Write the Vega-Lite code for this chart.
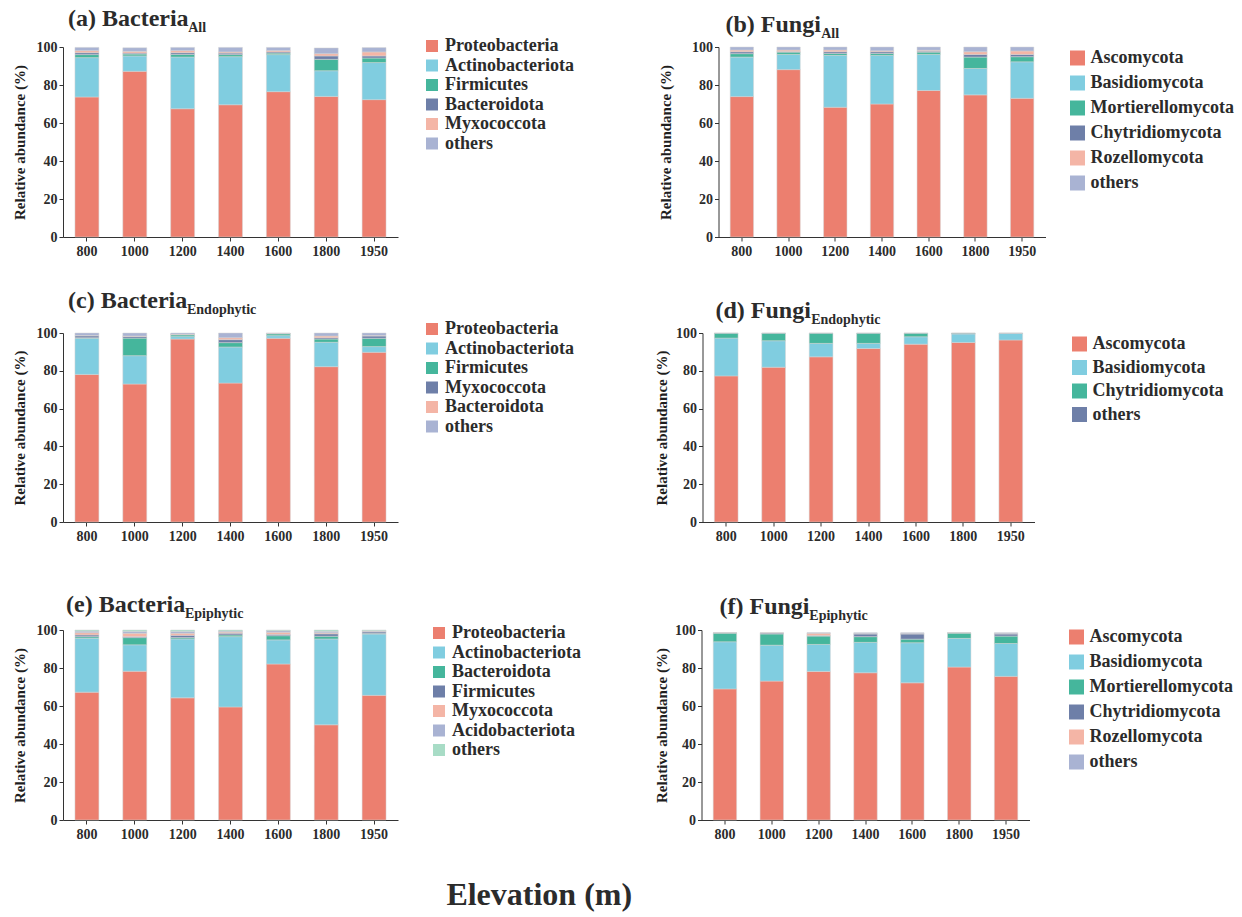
{
  "$schema": "https://vega.github.io/schema/vega-lite/v6.json",
  "padding": {"left": 12, "top": 7, "right": 2, "bottom": 2},
  "background": "white",
  "datasets": {
    "a": [
      {"elevation": 800, "taxon": "Proteobacteria", "rank": 1, "abundance": 73.7}, {"elevation": 800, "taxon": "Actinobacteriota", "rank": 2, "abundance": 20.7}, {"elevation": 800, "taxon": "Firmicutes", "rank": 3, "abundance": 1.6}, {"elevation": 800, "taxon": "Bacteroidota", "rank": 4, "abundance": 1.0}, {"elevation": 800, "taxon": "Myxococcota", "rank": 5, "abundance": 1.1}, {"elevation": 800, "taxon": "others", "rank": 6, "abundance": 1.7},
      {"elevation": 1000, "taxon": "Proteobacteria", "rank": 1, "abundance": 87.2}, {"elevation": 1000, "taxon": "Actinobacteriota", "rank": 2, "abundance": 8.1}, {"elevation": 1000, "taxon": "Firmicutes", "rank": 3, "abundance": 1.0}, {"elevation": 1000, "taxon": "Bacteroidota", "rank": 4, "abundance": 0.5}, {"elevation": 1000, "taxon": "Myxococcota", "rank": 5, "abundance": 0.9}, {"elevation": 1000, "taxon": "others", "rank": 6, "abundance": 1.9},
      {"elevation": 1200, "taxon": "Proteobacteria", "rank": 1, "abundance": 67.5}, {"elevation": 1200, "taxon": "Actinobacteriota", "rank": 2, "abundance": 27.2}, {"elevation": 1200, "taxon": "Firmicutes", "rank": 3, "abundance": 1.4}, {"elevation": 1200, "taxon": "Bacteroidota", "rank": 4, "abundance": 0.9}, {"elevation": 1200, "taxon": "Myxococcota", "rank": 5, "abundance": 1.1}, {"elevation": 1200, "taxon": "others", "rank": 6, "abundance": 1.7},
      {"elevation": 1400, "taxon": "Proteobacteria", "rank": 1, "abundance": 69.6}, {"elevation": 1400, "taxon": "Actinobacteriota", "rank": 2, "abundance": 25.3}, {"elevation": 1400, "taxon": "Firmicutes", "rank": 3, "abundance": 1.1}, {"elevation": 1400, "taxon": "Bacteroidota", "rank": 4, "abundance": 0.8}, {"elevation": 1400, "taxon": "Myxococcota", "rank": 5, "abundance": 0.6}, {"elevation": 1400, "taxon": "others", "rank": 6, "abundance": 2.4},
      {"elevation": 1600, "taxon": "Proteobacteria", "rank": 1, "abundance": 76.5}, {"elevation": 1600, "taxon": "Actinobacteriota", "rank": 2, "abundance": 19.5}, {"elevation": 1600, "taxon": "Firmicutes", "rank": 3, "abundance": 0.8}, {"elevation": 1600, "taxon": "Bacteroidota", "rank": 4, "abundance": 0.6}, {"elevation": 1600, "taxon": "Myxococcota", "rank": 5, "abundance": 0.7}, {"elevation": 1600, "taxon": "others", "rank": 6, "abundance": 1.7},
      {"elevation": 1800, "taxon": "Proteobacteria", "rank": 1, "abundance": 74.0}, {"elevation": 1800, "taxon": "Actinobacteriota", "rank": 2, "abundance": 13.5}, {"elevation": 1800, "taxon": "Firmicutes", "rank": 3, "abundance": 6.0}, {"elevation": 1800, "taxon": "Bacteroidota", "rank": 4, "abundance": 1.8}, {"elevation": 1800, "taxon": "Myxococcota", "rank": 5, "abundance": 1.2}, {"elevation": 1800, "taxon": "others", "rank": 6, "abundance": 3.0},
      {"elevation": 1950, "taxon": "Proteobacteria", "rank": 1, "abundance": 72.3}, {"elevation": 1950, "taxon": "Actinobacteriota", "rank": 2, "abundance": 19.5}, {"elevation": 1950, "taxon": "Firmicutes", "rank": 3, "abundance": 2.4}, {"elevation": 1950, "taxon": "Bacteroidota", "rank": 4, "abundance": 1.1}, {"elevation": 1950, "taxon": "Myxococcota", "rank": 5, "abundance": 2.1}, {"elevation": 1950, "taxon": "others", "rank": 6, "abundance": 2.3}
    ],
    "b": [
      {"elevation": 800, "taxon": "Ascomycota", "rank": 1, "abundance": 73.9}, {"elevation": 800, "taxon": "Basidiomycota", "rank": 2, "abundance": 20.8}, {"elevation": 800, "taxon": "Mortierellomycota", "rank": 3, "abundance": 1.8}, {"elevation": 800, "taxon": "Chytridiomycota", "rank": 4, "abundance": 1.0}, {"elevation": 800, "taxon": "Rozellomycota", "rank": 5, "abundance": 0.9}, {"elevation": 800, "taxon": "others", "rank": 6, "abundance": 1.6},
      {"elevation": 1000, "taxon": "Ascomycota", "rank": 1, "abundance": 88.1}, {"elevation": 1000, "taxon": "Basidiomycota", "rank": 2, "abundance": 8.0}, {"elevation": 1000, "taxon": "Mortierellomycota", "rank": 3, "abundance": 1.2}, {"elevation": 1000, "taxon": "Chytridiomycota", "rank": 4, "abundance": 0.3}, {"elevation": 1000, "taxon": "Rozellomycota", "rank": 5, "abundance": 0.8}, {"elevation": 1000, "taxon": "others", "rank": 6, "abundance": 1.6},
      {"elevation": 1200, "taxon": "Ascomycota", "rank": 1, "abundance": 68.3}, {"elevation": 1200, "taxon": "Basidiomycota", "rank": 2, "abundance": 27.3}, {"elevation": 1200, "taxon": "Mortierellomycota", "rank": 3, "abundance": 1.0}, {"elevation": 1200, "taxon": "Chytridiomycota", "rank": 4, "abundance": 0.9}, {"elevation": 1200, "taxon": "Rozellomycota", "rank": 5, "abundance": 0.9}, {"elevation": 1200, "taxon": "others", "rank": 6, "abundance": 1.6},
      {"elevation": 1400, "taxon": "Ascomycota", "rank": 1, "abundance": 70.0}, {"elevation": 1400, "taxon": "Basidiomycota", "rank": 2, "abundance": 25.6}, {"elevation": 1400, "taxon": "Mortierellomycota", "rank": 3, "abundance": 1.0}, {"elevation": 1400, "taxon": "Chytridiomycota", "rank": 4, "abundance": 0.9}, {"elevation": 1400, "taxon": "Rozellomycota", "rank": 5, "abundance": 0.5}, {"elevation": 1400, "taxon": "others", "rank": 6, "abundance": 2.0},
      {"elevation": 1600, "taxon": "Ascomycota", "rank": 1, "abundance": 77.1}, {"elevation": 1600, "taxon": "Basidiomycota", "rank": 2, "abundance": 19.0}, {"elevation": 1600, "taxon": "Mortierellomycota", "rank": 3, "abundance": 1.2}, {"elevation": 1600, "taxon": "Chytridiomycota", "rank": 4, "abundance": 0.5}, {"elevation": 1600, "taxon": "Rozellomycota", "rank": 5, "abundance": 0.5}, {"elevation": 1600, "taxon": "others", "rank": 6, "abundance": 1.7},
      {"elevation": 1800, "taxon": "Ascomycota", "rank": 1, "abundance": 74.8}, {"elevation": 1800, "taxon": "Basidiomycota", "rank": 2, "abundance": 13.9}, {"elevation": 1800, "taxon": "Mortierellomycota", "rank": 3, "abundance": 6.0}, {"elevation": 1800, "taxon": "Chytridiomycota", "rank": 4, "abundance": 1.4}, {"elevation": 1800, "taxon": "Rozellomycota", "rank": 5, "abundance": 1.4}, {"elevation": 1800, "taxon": "others", "rank": 6, "abundance": 2.5},
      {"elevation": 1950, "taxon": "Ascomycota", "rank": 1, "abundance": 73.0}, {"elevation": 1950, "taxon": "Basidiomycota", "rank": 2, "abundance": 19.2}, {"elevation": 1950, "taxon": "Mortierellomycota", "rank": 3, "abundance": 2.7}, {"elevation": 1950, "taxon": "Chytridiomycota", "rank": 4, "abundance": 1.2}, {"elevation": 1950, "taxon": "Rozellomycota", "rank": 5, "abundance": 1.8}, {"elevation": 1950, "taxon": "others", "rank": 6, "abundance": 2.1}
    ],
    "c": [
      {"elevation": 800, "taxon": "Proteobacteria", "rank": 1, "abundance": 78.1}, {"elevation": 800, "taxon": "Actinobacteriota", "rank": 2, "abundance": 19.1}, {"elevation": 800, "taxon": "Firmicutes", "rank": 3, "abundance": 0.3}, {"elevation": 800, "taxon": "Myxococcota", "rank": 4, "abundance": 1.0}, {"elevation": 800, "taxon": "Bacteroidota", "rank": 5, "abundance": 0.2}, {"elevation": 800, "taxon": "others", "rank": 6, "abundance": 1.3},
      {"elevation": 1000, "taxon": "Proteobacteria", "rank": 1, "abundance": 73.0}, {"elevation": 1000, "taxon": "Actinobacteriota", "rank": 2, "abundance": 15.0}, {"elevation": 1000, "taxon": "Firmicutes", "rank": 3, "abundance": 9.3}, {"elevation": 1000, "taxon": "Myxococcota", "rank": 4, "abundance": 0.9}, {"elevation": 1000, "taxon": "Bacteroidota", "rank": 5, "abundance": 0.2}, {"elevation": 1000, "taxon": "others", "rank": 6, "abundance": 1.6},
      {"elevation": 1200, "taxon": "Proteobacteria", "rank": 1, "abundance": 96.8}, {"elevation": 1200, "taxon": "Actinobacteriota", "rank": 2, "abundance": 1.3}, {"elevation": 1200, "taxon": "Firmicutes", "rank": 3, "abundance": 0.9}, {"elevation": 1200, "taxon": "Myxococcota", "rank": 4, "abundance": 0.2}, {"elevation": 1200, "taxon": "Bacteroidota", "rank": 5, "abundance": 0.2}, {"elevation": 1200, "taxon": "others", "rank": 6, "abundance": 0.6},
      {"elevation": 1400, "taxon": "Proteobacteria", "rank": 1, "abundance": 73.5}, {"elevation": 1400, "taxon": "Actinobacteriota", "rank": 2, "abundance": 19.1}, {"elevation": 1400, "taxon": "Firmicutes", "rank": 3, "abundance": 2.3}, {"elevation": 1400, "taxon": "Myxococcota", "rank": 4, "abundance": 1.6}, {"elevation": 1400, "taxon": "Bacteroidota", "rank": 5, "abundance": 1.0}, {"elevation": 1400, "taxon": "others", "rank": 6, "abundance": 2.5},
      {"elevation": 1600, "taxon": "Proteobacteria", "rank": 1, "abundance": 97.2}, {"elevation": 1600, "taxon": "Actinobacteriota", "rank": 2, "abundance": 1.4}, {"elevation": 1600, "taxon": "Firmicutes", "rank": 3, "abundance": 1.0}, {"elevation": 1600, "taxon": "Myxococcota", "rank": 4, "abundance": 0.1}, {"elevation": 1600, "taxon": "Bacteroidota", "rank": 5, "abundance": 0.1}, {"elevation": 1600, "taxon": "others", "rank": 6, "abundance": 0.2},
      {"elevation": 1800, "taxon": "Proteobacteria", "rank": 1, "abundance": 82.2}, {"elevation": 1800, "taxon": "Actinobacteriota", "rank": 2, "abundance": 12.9}, {"elevation": 1800, "taxon": "Firmicutes", "rank": 3, "abundance": 1.7}, {"elevation": 1800, "taxon": "Myxococcota", "rank": 4, "abundance": 0.7}, {"elevation": 1800, "taxon": "Bacteroidota", "rank": 5, "abundance": 0.9}, {"elevation": 1800, "taxon": "others", "rank": 6, "abundance": 1.6},
      {"elevation": 1950, "taxon": "Proteobacteria", "rank": 1, "abundance": 89.8}, {"elevation": 1950, "taxon": "Actinobacteriota", "rank": 2, "abundance": 3.0}, {"elevation": 1950, "taxon": "Firmicutes", "rank": 3, "abundance": 4.4}, {"elevation": 1950, "taxon": "Myxococcota", "rank": 4, "abundance": 1.2}, {"elevation": 1950, "taxon": "Bacteroidota", "rank": 5, "abundance": 0.3}, {"elevation": 1950, "taxon": "others", "rank": 6, "abundance": 1.3}
    ],
    "d": [
      {"elevation": 800, "taxon": "Ascomycota", "rank": 1, "abundance": 77.3}, {"elevation": 800, "taxon": "Basidiomycota", "rank": 2, "abundance": 20.0}, {"elevation": 800, "taxon": "Chytridiomycota", "rank": 3, "abundance": 2.6}, {"elevation": 800, "taxon": "others", "rank": 4, "abundance": 0.1},
      {"elevation": 1000, "taxon": "Ascomycota", "rank": 1, "abundance": 81.9}, {"elevation": 1000, "taxon": "Basidiomycota", "rank": 2, "abundance": 14.0}, {"elevation": 1000, "taxon": "Chytridiomycota", "rank": 3, "abundance": 4.0}, {"elevation": 1000, "taxon": "others", "rank": 4, "abundance": 0.1},
      {"elevation": 1200, "taxon": "Ascomycota", "rank": 1, "abundance": 87.4}, {"elevation": 1200, "taxon": "Basidiomycota", "rank": 2, "abundance": 7.1}, {"elevation": 1200, "taxon": "Chytridiomycota", "rank": 3, "abundance": 5.4}, {"elevation": 1200, "taxon": "others", "rank": 4, "abundance": 0.1},
      {"elevation": 1400, "taxon": "Ascomycota", "rank": 1, "abundance": 91.8}, {"elevation": 1400, "taxon": "Basidiomycota", "rank": 2, "abundance": 2.7}, {"elevation": 1400, "taxon": "Chytridiomycota", "rank": 3, "abundance": 5.4}, {"elevation": 1400, "taxon": "others", "rank": 4, "abundance": 0.1},
      {"elevation": 1600, "taxon": "Ascomycota", "rank": 1, "abundance": 94.1}, {"elevation": 1600, "taxon": "Basidiomycota", "rank": 2, "abundance": 3.9}, {"elevation": 1600, "taxon": "Chytridiomycota", "rank": 3, "abundance": 1.9}, {"elevation": 1600, "taxon": "others", "rank": 4, "abundance": 0.1},
      {"elevation": 1800, "taxon": "Ascomycota", "rank": 1, "abundance": 95.0}, {"elevation": 1800, "taxon": "Basidiomycota", "rank": 2, "abundance": 4.5}, {"elevation": 1800, "taxon": "Chytridiomycota", "rank": 3, "abundance": 0.4}, {"elevation": 1800, "taxon": "others", "rank": 4, "abundance": 0.1},
      {"elevation": 1950, "taxon": "Ascomycota", "rank": 1, "abundance": 96.3}, {"elevation": 1950, "taxon": "Basidiomycota", "rank": 2, "abundance": 3.5}, {"elevation": 1950, "taxon": "Chytridiomycota", "rank": 3, "abundance": 0.1}, {"elevation": 1950, "taxon": "others", "rank": 4, "abundance": 0.1}
    ],
    "e": [
      {"elevation": 800, "taxon": "Proteobacteria", "rank": 1, "abundance": 67.3}, {"elevation": 800, "taxon": "Actinobacteriota", "rank": 2, "abundance": 28.4}, {"elevation": 800, "taxon": "Bacteroidota", "rank": 3, "abundance": 0.8}, {"elevation": 800, "taxon": "Firmicutes", "rank": 4, "abundance": 0.9}, {"elevation": 800, "taxon": "Myxococcota", "rank": 5, "abundance": 1.2}, {"elevation": 800, "taxon": "Acidobacteriota", "rank": 6, "abundance": 0.8}, {"elevation": 800, "taxon": "others", "rank": 7, "abundance": 0.6},
      {"elevation": 1000, "taxon": "Proteobacteria", "rank": 1, "abundance": 78.3}, {"elevation": 1000, "taxon": "Actinobacteriota", "rank": 2, "abundance": 13.9}, {"elevation": 1000, "taxon": "Bacteroidota", "rank": 3, "abundance": 3.8}, {"elevation": 1000, "taxon": "Firmicutes", "rank": 4, "abundance": 0.5}, {"elevation": 1000, "taxon": "Myxococcota", "rank": 5, "abundance": 1.8}, {"elevation": 1000, "taxon": "Acidobacteriota", "rank": 6, "abundance": 1.0}, {"elevation": 1000, "taxon": "others", "rank": 7, "abundance": 0.7},
      {"elevation": 1200, "taxon": "Proteobacteria", "rank": 1, "abundance": 64.3}, {"elevation": 1200, "taxon": "Actinobacteriota", "rank": 2, "abundance": 31.0}, {"elevation": 1200, "taxon": "Bacteroidota", "rank": 3, "abundance": 0.7}, {"elevation": 1200, "taxon": "Firmicutes", "rank": 4, "abundance": 1.2}, {"elevation": 1200, "taxon": "Myxococcota", "rank": 5, "abundance": 1.1}, {"elevation": 1200, "taxon": "Acidobacteriota", "rank": 6, "abundance": 1.0}, {"elevation": 1200, "taxon": "others", "rank": 7, "abundance": 0.7},
      {"elevation": 1400, "taxon": "Proteobacteria", "rank": 1, "abundance": 59.5}, {"elevation": 1400, "taxon": "Actinobacteriota", "rank": 2, "abundance": 37.0}, {"elevation": 1400, "taxon": "Bacteroidota", "rank": 3, "abundance": 0.9}, {"elevation": 1400, "taxon": "Firmicutes", "rank": 4, "abundance": 0.9}, {"elevation": 1400, "taxon": "Myxococcota", "rank": 5, "abundance": 0.6}, {"elevation": 1400, "taxon": "Acidobacteriota", "rank": 6, "abundance": 0.5}, {"elevation": 1400, "taxon": "others", "rank": 7, "abundance": 0.6},
      {"elevation": 1600, "taxon": "Proteobacteria", "rank": 1, "abundance": 82.1}, {"elevation": 1600, "taxon": "Actinobacteriota", "rank": 2, "abundance": 12.7}, {"elevation": 1600, "taxon": "Bacteroidota", "rank": 3, "abundance": 2.2}, {"elevation": 1600, "taxon": "Firmicutes", "rank": 4, "abundance": 0.7}, {"elevation": 1600, "taxon": "Myxococcota", "rank": 5, "abundance": 1.1}, {"elevation": 1600, "taxon": "Acidobacteriota", "rank": 6, "abundance": 0.8}, {"elevation": 1600, "taxon": "others", "rank": 7, "abundance": 0.4},
      {"elevation": 1800, "taxon": "Proteobacteria", "rank": 1, "abundance": 50.1}, {"elevation": 1800, "taxon": "Actinobacteriota", "rank": 2, "abundance": 45.2}, {"elevation": 1800, "taxon": "Bacteroidota", "rank": 3, "abundance": 1.4}, {"elevation": 1800, "taxon": "Firmicutes", "rank": 4, "abundance": 1.3}, {"elevation": 1800, "taxon": "Myxococcota", "rank": 5, "abundance": 0.5}, {"elevation": 1800, "taxon": "Acidobacteriota", "rank": 6, "abundance": 0.8}, {"elevation": 1800, "taxon": "others", "rank": 7, "abundance": 0.7},
      {"elevation": 1950, "taxon": "Proteobacteria", "rank": 1, "abundance": 65.6}, {"elevation": 1950, "taxon": "Actinobacteriota", "rank": 2, "abundance": 32.3}, {"elevation": 1950, "taxon": "Bacteroidota", "rank": 3, "abundance": 0.3}, {"elevation": 1950, "taxon": "Firmicutes", "rank": 4, "abundance": 0.8}, {"elevation": 1950, "taxon": "Myxococcota", "rank": 5, "abundance": 0.3}, {"elevation": 1950, "taxon": "Acidobacteriota", "rank": 6, "abundance": 0.3}, {"elevation": 1950, "taxon": "others", "rank": 7, "abundance": 0.4}
    ],
    "f": [
      {"elevation": 800, "taxon": "Ascomycota", "rank": 1, "abundance": 69.0}, {"elevation": 800, "taxon": "Basidiomycota", "rank": 2, "abundance": 24.8}, {"elevation": 800, "taxon": "Mortierellomycota", "rank": 3, "abundance": 4.6}, {"elevation": 800, "taxon": "Chytridiomycota", "rank": 4, "abundance": 0.1}, {"elevation": 800, "taxon": "Rozellomycota", "rank": 5, "abundance": 0.05}, {"elevation": 800, "taxon": "others", "rank": 6, "abundance": 0.05},
      {"elevation": 1000, "taxon": "Ascomycota", "rank": 1, "abundance": 73.1}, {"elevation": 1000, "taxon": "Basidiomycota", "rank": 2, "abundance": 18.9}, {"elevation": 1000, "taxon": "Mortierellomycota", "rank": 3, "abundance": 5.9}, {"elevation": 1000, "taxon": "Chytridiomycota", "rank": 4, "abundance": 0.5}, {"elevation": 1000, "taxon": "Rozellomycota", "rank": 5, "abundance": 0.1}, {"elevation": 1000, "taxon": "others", "rank": 6, "abundance": 0.1},
      {"elevation": 1200, "taxon": "Ascomycota", "rank": 1, "abundance": 78.2}, {"elevation": 1200, "taxon": "Basidiomycota", "rank": 2, "abundance": 14.2}, {"elevation": 1200, "taxon": "Mortierellomycota", "rank": 3, "abundance": 4.4}, {"elevation": 1200, "taxon": "Chytridiomycota", "rank": 4, "abundance": 0.3}, {"elevation": 1200, "taxon": "Rozellomycota", "rank": 5, "abundance": 1.2}, {"elevation": 1200, "taxon": "others", "rank": 6, "abundance": 0.3},
      {"elevation": 1400, "taxon": "Ascomycota", "rank": 1, "abundance": 77.5}, {"elevation": 1400, "taxon": "Basidiomycota", "rank": 2, "abundance": 16.0}, {"elevation": 1400, "taxon": "Mortierellomycota", "rank": 3, "abundance": 3.0}, {"elevation": 1400, "taxon": "Chytridiomycota", "rank": 4, "abundance": 1.4}, {"elevation": 1400, "taxon": "Rozellomycota", "rank": 5, "abundance": 0.2}, {"elevation": 1400, "taxon": "others", "rank": 6, "abundance": 0.5},
      {"elevation": 1600, "taxon": "Ascomycota", "rank": 1, "abundance": 72.2}, {"elevation": 1600, "taxon": "Basidiomycota", "rank": 2, "abundance": 21.1}, {"elevation": 1600, "taxon": "Mortierellomycota", "rank": 3, "abundance": 1.9}, {"elevation": 1600, "taxon": "Chytridiomycota", "rank": 4, "abundance": 2.7}, {"elevation": 1600, "taxon": "Rozellomycota", "rank": 5, "abundance": 0.2}, {"elevation": 1600, "taxon": "others", "rank": 6, "abundance": 0.5},
      {"elevation": 1800, "taxon": "Ascomycota", "rank": 1, "abundance": 80.5}, {"elevation": 1800, "taxon": "Basidiomycota", "rank": 2, "abundance": 15.1}, {"elevation": 1800, "taxon": "Mortierellomycota", "rank": 3, "abundance": 2.8}, {"elevation": 1800, "taxon": "Chytridiomycota", "rank": 4, "abundance": 0.1}, {"elevation": 1800, "taxon": "Rozellomycota", "rank": 5, "abundance": 0.05}, {"elevation": 1800, "taxon": "others", "rank": 6, "abundance": 0.05},
      {"elevation": 1950, "taxon": "Ascomycota", "rank": 1, "abundance": 75.6}, {"elevation": 1950, "taxon": "Basidiomycota", "rank": 2, "abundance": 17.3}, {"elevation": 1950, "taxon": "Mortierellomycota", "rank": 3, "abundance": 3.9}, {"elevation": 1950, "taxon": "Chytridiomycota", "rank": 4, "abundance": 1.1}, {"elevation": 1950, "taxon": "Rozellomycota", "rank": 5, "abundance": 0.2}, {"elevation": 1950, "taxon": "others", "rank": 6, "abundance": 0.5}
    ]
  },
  "title": {"text": "Elevation (m)", "orient": "bottom", "anchor": "middle", "frame": "bounds", "fontSize": 32, "dx": -84, "offset": 39, "color": "#2b2b2b"},
  "spacing": 50,
  "resolve": {"scale": {"color": "independent"}, "legend": {"color": "independent"}},
  "vconcat": [
    {
      "spacing": 31,
      "resolve": {"scale": {"color": "independent"}, "legend": {"color": "independent"}},
      "vconcat": [
        {
          "spacing": 84.5,
          "resolve": {"scale": {"color": "independent"}, "legend": {"color": "independent"}},
          "hconcat": [
            {
              "data": {"name": "a"}, "width": 335, "height": 190,
              "title": {"text": "(a) Bacteria", "subtitle": "\u200b\u2003\u2003\u2003\u2003\u2003\u2003\u2003\u2003\u2002\u200aAll", "dx": 5, "offset": 2},
              "mark": {"type": "bar", "stroke": "#d4d4d4", "strokeWidth": 0.5},
              "encoding": {
                "x": {"field": "elevation", "type": "ordinal", "scale": {"paddingInner": 0.5, "paddingOuter": 0.25}},
                "y": {"field": "abundance", "type": "quantitative", "stack": "zero", "scale": {"domain": [0, 100], "nice": false}, "axis": {"title": "Relative abundance (%)", "values": [0, 20, 40, 60, 80, 100], "titlePadding": 9}},
                "order": {"field": "rank", "type": "quantitative", "sort": "ascending"},
                "color": {"field": "taxon", "type": "nominal",
                  "scale": {"domain": ["Proteobacteria", "Actinobacteriota", "Firmicutes", "Bacteroidota", "Myxococcota", "others"], "range": ["#EC7F6F", "#80CDE0", "#45B69C", "#6E7FA8", "#F4B5A6", "#A9B3D3"]},
                  "legend": {"orient": "none", "legendX": 360, "legendY": -10, "symbolSize": 144, "labelFontSize": 18, "rowPadding": 1.5}}
              }
            },
            {
              "data": {"name": "b"}, "width": 327, "height": 190,
              "title": {"text": "(b) Fungi", "subtitle": "\u200b\u2003\u2003\u2003\u2003\u2003\u2003\u2002\u2004All", "dx": 7, "offset": -1},
              "mark": {"type": "bar", "stroke": "#d4d4d4", "strokeWidth": 0.5},
              "encoding": {
                "x": {"field": "elevation", "type": "ordinal", "scale": {"paddingInner": 0.5, "paddingOuter": 0.25}},
                "y": {"field": "abundance", "type": "quantitative", "stack": "zero", "scale": {"domain": [0, 100], "nice": false}, "axis": {"title": "Relative abundance (%)", "values": [0, 20, 40, 60, 80, 100], "titlePadding": 18}},
                "order": {"field": "rank", "type": "quantitative", "sort": "ascending"},
                "color": {"field": "taxon", "type": "nominal",
                  "scale": {"domain": ["Ascomycota", "Basidiomycota", "Mortierellomycota", "Chytridiomycota", "Rozellomycota", "others"], "range": ["#EC7F6F", "#80CDE0", "#45B69C", "#6E7FA8", "#F4B5A6", "#A9B3D3"]},
                  "legend": {"orient": "none", "legendX": 350, "legendY": 2, "symbolSize": 225, "labelFontSize": 18, "rowPadding": 7}}
              }
            }
          ]
        },
        {
          "spacing": 80.5,
          "resolve": {"scale": {"color": "independent"}, "legend": {"color": "independent"}},
          "hconcat": [
            {
              "data": {"name": "c"}, "width": 335, "height": 189,
              "title": {"text": "(c) Bacteria", "subtitle": "\u200b\u2003\u2003\u2003\u2003\u2003\u2003\u2003\u2003\u2002Endophytic", "dx": 5, "offset": 3},
              "mark": {"type": "bar", "stroke": "#d4d4d4", "strokeWidth": 0.5},
              "encoding": {
                "x": {"field": "elevation", "type": "ordinal", "scale": {"paddingInner": 0.5, "paddingOuter": 0.25}},
                "y": {"field": "abundance", "type": "quantitative", "stack": "zero", "scale": {"domain": [0, 100], "nice": false}, "axis": {"title": "Relative abundance (%)", "values": [0, 20, 40, 60, 80, 100], "titlePadding": 9}},
                "order": {"field": "rank", "type": "quantitative", "sort": "ascending"},
                "color": {"field": "taxon", "type": "nominal",
                  "scale": {"domain": ["Proteobacteria", "Actinobacteriota", "Firmicutes", "Myxococcota", "Bacteroidota", "others"], "range": ["#EC7F6F", "#80CDE0", "#45B69C", "#6E7FA8", "#F4B5A6", "#A9B3D3"]},
                  "legend": {"orient": "none", "legendX": 360, "legendY": -13, "symbolSize": 144, "labelFontSize": 18, "rowPadding": 1.5}}
              }
            },
            {
              "data": {"name": "d"}, "width": 332, "height": 189,
              "title": {"text": "(d) Fungi", "subtitle": "\u200b\u2003\u2003\u2003\u2003\u2003\u2003\u2002\u2004Endophytic", "dx": 13, "offset": -1},
              "mark": {"type": "bar", "stroke": "#d4d4d4", "strokeWidth": 0.5},
              "encoding": {
                "x": {"field": "elevation", "type": "ordinal", "scale": {"paddingInner": 0.5, "paddingOuter": 0.25}},
                "y": {"field": "abundance", "type": "quantitative", "stack": "zero", "scale": {"domain": [0, 100], "nice": false}, "axis": {"title": "Relative abundance (%)", "values": [0, 20, 40, 60, 80, 100], "titlePadding": 6}},
                "order": {"field": "rank", "type": "quantitative", "sort": "ascending"},
                "color": {"field": "taxon", "type": "nominal",
                  "scale": {"domain": ["Ascomycota", "Basidiomycota", "Chytridiomycota", "others"], "range": ["#EC7F6F", "#80CDE0", "#45B69C", "#6E7FA8"]},
                  "legend": {"orient": "none", "legendX": 368, "legendY": 2, "symbolSize": 225, "labelFontSize": 18, "rowPadding": 5.5}}
              }
            }
          ]
        }
      ]
    },
    {
      "spacing": 73.5,
      "resolve": {"scale": {"color": "independent"}, "legend": {"color": "independent"}},
      "hconcat": [
        {
          "data": {"name": "e"}, "width": 335, "height": 190,
          "title": {"text": "(e) Bacteria", "subtitle": "\u200b\u2003\u2003\u2003\u2003\u2003\u2003\u2003\u2003\u2002Epiphytic", "dx": 3, "offset": 2},
          "mark": {"type": "bar", "stroke": "#d4d4d4", "strokeWidth": 0.5},
          "encoding": {
            "x": {"field": "elevation", "type": "ordinal", "scale": {"paddingInner": 0.5, "paddingOuter": 0.25}},
            "y": {"field": "abundance", "type": "quantitative", "stack": "zero", "scale": {"domain": [0, 100], "nice": false}, "axis": {"title": "Relative abundance (%)", "values": [0, 20, 40, 60, 80, 100], "titlePadding": 9}},
            "order": {"field": "rank", "type": "quantitative", "sort": "ascending"},
            "color": {"field": "taxon", "type": "nominal",
              "scale": {"domain": ["Proteobacteria", "Actinobacteriota", "Bacteroidota", "Firmicutes", "Myxococcota", "Acidobacteriota", "others"], "range": ["#EC7F6F", "#80CDE0", "#45B69C", "#6E7FA8", "#F4B5A6", "#A9B3D3", "#A8DCC6"]},
              "legend": {"orient": "none", "legendX": 367, "legendY": -6, "symbolSize": 144, "labelFontSize": 18, "rowPadding": 1.5}}
          }
        },
        {
          "data": {"name": "f"}, "width": 328, "height": 190,
          "title": {"text": "(f) Fungi", "subtitle": "\u200b\u2003\u2003\u2003\u2003\u2003\u2003\u2005\u2006Epiphytic", "dx": 18, "offset": 0},
          "mark": {"type": "bar", "stroke": "#d4d4d4", "strokeWidth": 0.5},
          "encoding": {
            "x": {"field": "elevation", "type": "ordinal", "scale": {"paddingInner": 0.5, "paddingOuter": 0.25}},
            "y": {"field": "abundance", "type": "quantitative", "stack": "zero", "scale": {"domain": [0, 100], "nice": false}, "axis": {"title": "Relative abundance (%)", "values": [0, 20, 40, 60, 80, 100], "titlePadding": 5}},
            "order": {"field": "rank", "type": "quantitative", "sort": "ascending"},
            "color": {"field": "taxon", "type": "nominal",
              "scale": {"domain": ["Ascomycota", "Basidiomycota", "Mortierellomycota", "Chytridiomycota", "Rozellomycota", "others"], "range": ["#EC7F6F", "#80CDE0", "#45B69C", "#6E7FA8", "#F4B5A6", "#A9B3D3"]},
              "legend": {"orient": "none", "legendX": 366, "legendY": -2, "symbolSize": 225, "labelFontSize": 18, "rowPadding": 7}}
          }
        }
      ]
    }
  ],
  "config": {
    "font": "Liberation Serif",
    "view": {"stroke": null},
    "axis": {"grid": false, "labelFont": "Liberation Serif", "labelFontWeight": "bold", "labelFontSize": 14, "labelColor": "#2b2b2b", "domainColor": "#333333", "tickColor": "#333333", "tickSize": 4, "titleFont": "Liberation Serif", "titleFontWeight": "bold", "titleFontSize": 15, "titleColor": "#1e1e1e"},
    "axisX": {"labelAngle": 0, "title": null, "labelPadding": 3},
    "axisY": {"labelPadding": 2},
    "legend": {"title": null, "symbolType": "square", "symbolStrokeWidth": 0, "symbolOpacity": 1, "labelFont": "Liberation Serif", "labelFontWeight": "bold", "labelColor": "#2b2b2b", "labelOffset": 4, "labelLimit": 300},
    "title": {"font": "Liberation Serif", "fontWeight": "bold", "fontSize": 24, "color": "#2b2b2b", "anchor": "start", "frame": "group", "subtitleFont": "Liberation Serif", "subtitleFontWeight": "bold", "subtitleFontSize": 14, "subtitleColor": "#2b2b2b", "subtitlePadding": -10}
  }
}
